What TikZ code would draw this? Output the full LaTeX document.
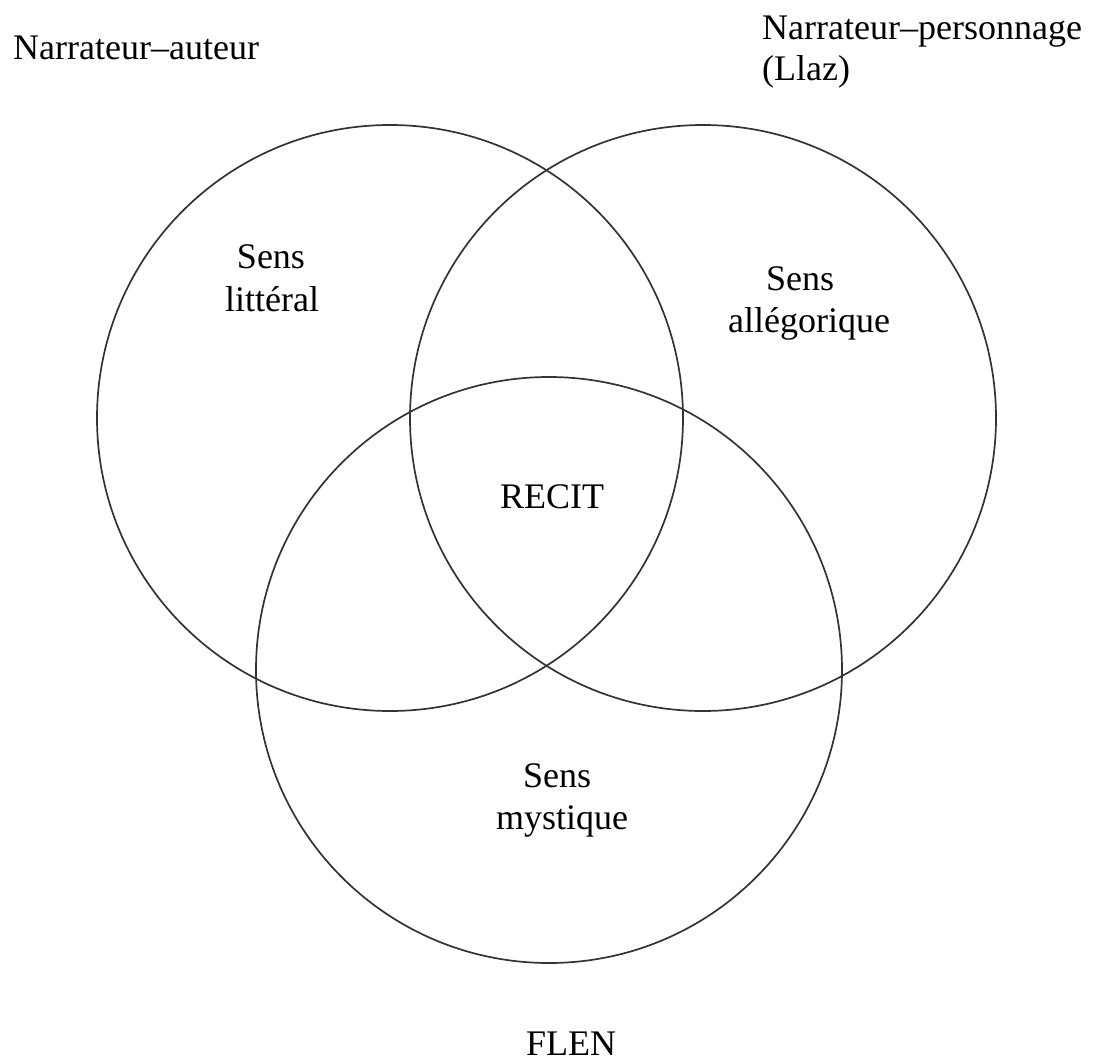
\documentclass[tikz,border=0pt]{standalone}
\usepackage{fontspec}
\setmainfont{Liberation Serif}
\begin{document}
\begin{tikzpicture}[x=1pt,y=-1pt,
  ring/.style={draw=black!80,line width=1.7pt},
  lbl/.style={inner sep=0pt,font=\fontsize{36}{42}\selectfont}]
\useasboundingbox (0,0) rectangle (1101,1063);
% circles
\draw[ring] (390,418) circle[radius=293];
\draw[ring] (703,418) circle[radius=293];
\draw[ring] (549,670) circle[radius=293];
% labels
\node[lbl,anchor=base west] (na) at (13,59) {Narrateur–auteur};
\node[lbl,anchor=base west] (np) at (762,39) {Narrateur–personnage};
\node[lbl,anchor=base west] (llaz) at (762,80) {(Llaz)};
\node[lbl,anchor=base] (s1) at (271,268) {Sens};
\node[lbl,anchor=base] (lit) at (272,311) {littéral};
\node[lbl,anchor=base] (s2) at (800,290) {Sens};
\node[lbl,anchor=base] (all) at (809,332) {allégorique};
\node[lbl,anchor=base] (recit) at (552,508) {RECIT};
\node[lbl,anchor=base] (s3) at (557,787) {Sens};
\node[lbl,anchor=base] (mys) at (562,829) {mystique};
\node[lbl,anchor=base] (flen) at (571,1055) {FLEN};
\end{tikzpicture}
\end{document}
